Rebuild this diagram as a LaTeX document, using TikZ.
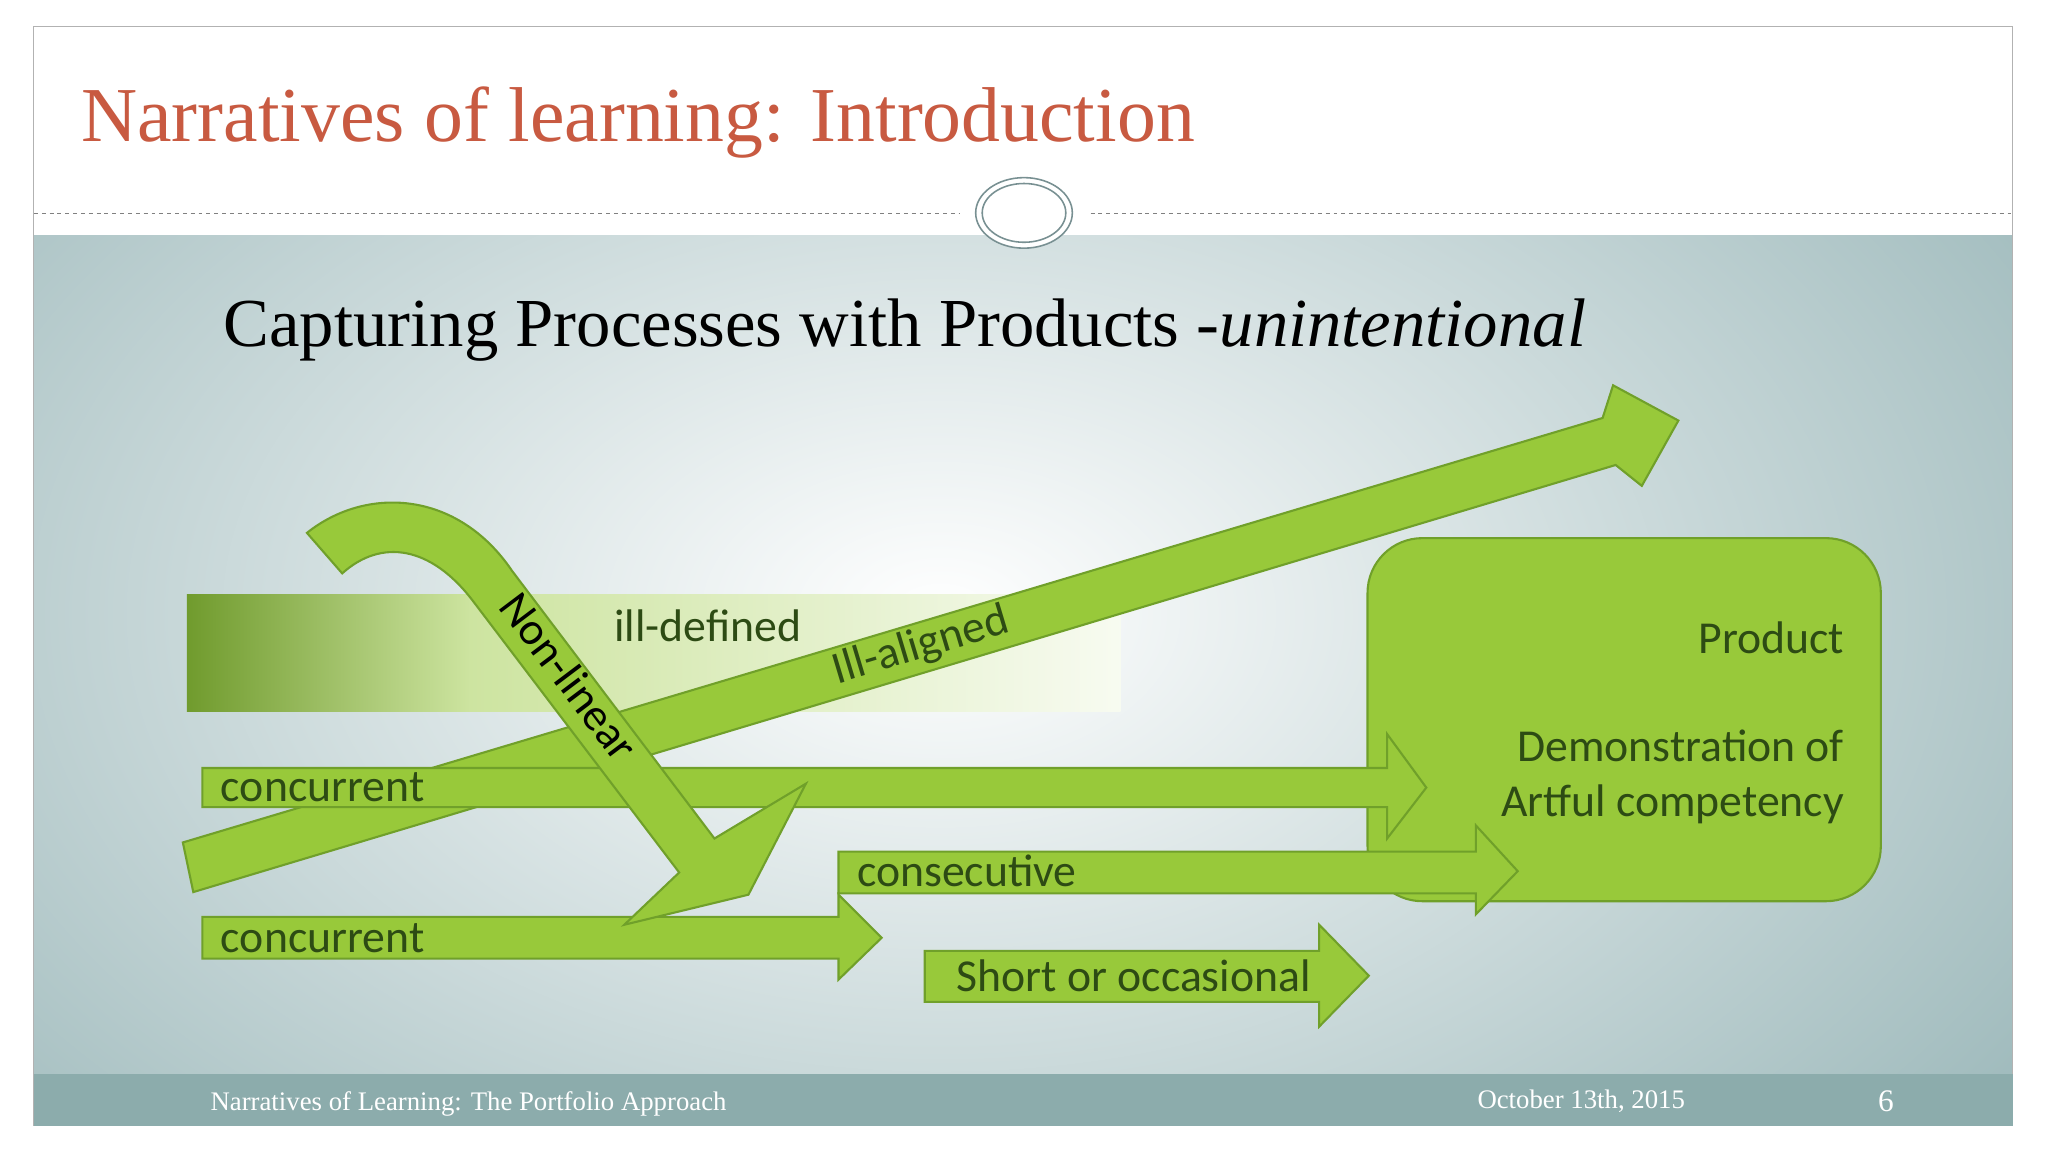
\documentclass[tikz,border=0pt]{standalone}
\usepackage{fontspec}
\setmainfont{Liberation Serif}
\newfontfamily\carlitofont{Carlito}
\definecolor{gfill}{RGB}{152,201,58}
\definecolor{gline}{RGB}{112,160,42}
\definecolor{gtext}{RGB}{45,75,20}
\definecolor{titlec}{RGB}{200,90,65}
\definecolor{bgedge}{RGB}{150,180,182}
\definecolor{foot}{RGB}{140,172,172}
\definecolor{gdark}{RGB}{112,155,45}
\definecolor{glight}{RGB}{205,228,160}
\tikzset{arr/.style={fill=gfill,draw=gline,line width=1.6pt,line join=miter},
 lab/.style={font=\carlitofont\fontsize{35}{35}\selectfont,text=gtext,inner sep=0pt}}
\begin{document}
\begin{tikzpicture}[x=1pt,y=-1pt]
\useasboundingbox (0,0) rectangle (1568,882);
\fill[white] (0,0) rectangle (1568,882);
\begin{scope}
\clip (26,180) rectangle (1541,822);
\fill[bgedge] (26,180) rectangle (1541,822);
\shade[inner color=white,outer color=bgedge] (720,470) ellipse (1100 and 700);
\end{scope}
\draw[gray!60,line width=0.8pt] (26,20) rectangle (1541,862);
\fill[foot] (26,822) rectangle (1541,862);
\node[anchor=base west,text=titlec,font=\fontsize{59.5}{60}\selectfont,inner sep=0pt] (title) at (62,108) {Narratives of learning: Introduction};
\draw[gray,dashed,line width=0.6pt] (26,163) -- (735,163) (835,163) -- (1541,163);
\draw[bgedge!80!black,line width=1.2pt,fill=white] (784,163) ellipse (37 and 27);
\draw[bgedge!80!black,line width=1.2pt] (784,163) ellipse (32 and 22.5);
\node[anchor=base west,font=\fontsize{52.6}{53}\selectfont,inner sep=0pt] (sub) at (171,265) {Capturing Processes with Products -\textit{unintentional}};
\node[anchor=base west,text=white,font=\fontsize{20.5}{21}\selectfont,inner sep=0pt] (f1) at (161,850) {Narratives of Learning: The Portfolio Approach};
\node[anchor=base west,text=white,font=\fontsize{20.5}{21}\selectfont,inner sep=0pt] (f2) at (1131,849) {October 13th, 2015};
\node[anchor=base,text=white,font=\fontsize{24}{24}\selectfont,inner sep=0pt] (f3) at (1444,851) {6};
% ill-defined bar
\shade[left color=gdark,right color=glight] (143,455) rectangle (360,545);
\shade[left color=glight,right color=glight!15] (359,455) rectangle (858,545);
\node[lab,anchor=base] (ill) at (542,491) {ill-defined};
% product box
\draw[fill=gfill,draw=gline,line width=1.6pt,rounded corners=42pt] (1047,412) rectangle (1440,690);
\node[lab,anchor=base east] (p1) at (1412,500) {Product};
\node[lab,anchor=base east] (p2) at (1412,583) {Demonstration of};
\node[lab,anchor=base east] (p3) at (1412,625) {Artful competency};
% diagonal
\draw[arr] (140,645) -- (1227,320) -- (1235,295) -- (1285,322) -- (1257,372) -- (1237,356) -- (148,683) -- cycle;
\node[lab,rotate=16.7] (ia) at (705,495) {Ill-aligned};
% concurrent top
\draw[arr] (155,588) -- (1062,588) -- (1062,562) -- (1092,603) -- (1062,642) -- (1062,618) -- (155,618) -- cycle;
\node[lab,anchor=base west] (c1) at (169,614) {concurrent};
% consecutive
\draw[arr] (642,652) -- (1130,652) -- (1130,632) -- (1162,667) -- (1130,700) -- (1130,684) -- (642,684) -- cycle;
\node[lab,anchor=base west] (cs) at (656,679) {consecutive};
% concurrent bottom
\draw[arr] (155,702) -- (642,702) -- (642,685) -- (675,718) -- (642,750) -- (642,734) -- (155,734) -- cycle;
\node[lab,anchor=base west] (c2) at (169,729) {concurrent};
% short
\draw[arr] (708,728) -- (1010,728) -- (1010,708) -- (1048,747) -- (1010,786) -- (1010,767) -- (708,767) -- cycle;
\node[lab,anchor=base] (sh) at (868,759) {Short or occasional};
% non-linear
\draw[arr] (235,408) .. controls (280,372) and (350,375) .. (392,437) -- (547,642) -- (617,600) -- (573,685) -- (478,708) -- (520,668) -- (362,460) .. controls (330,418) and (292,412) .. (262,439) -- cycle;
\node[lab,rotate=-53,text=black] (nl) at (436,518) {Non-linear};
\end{tikzpicture}
\end{document}
